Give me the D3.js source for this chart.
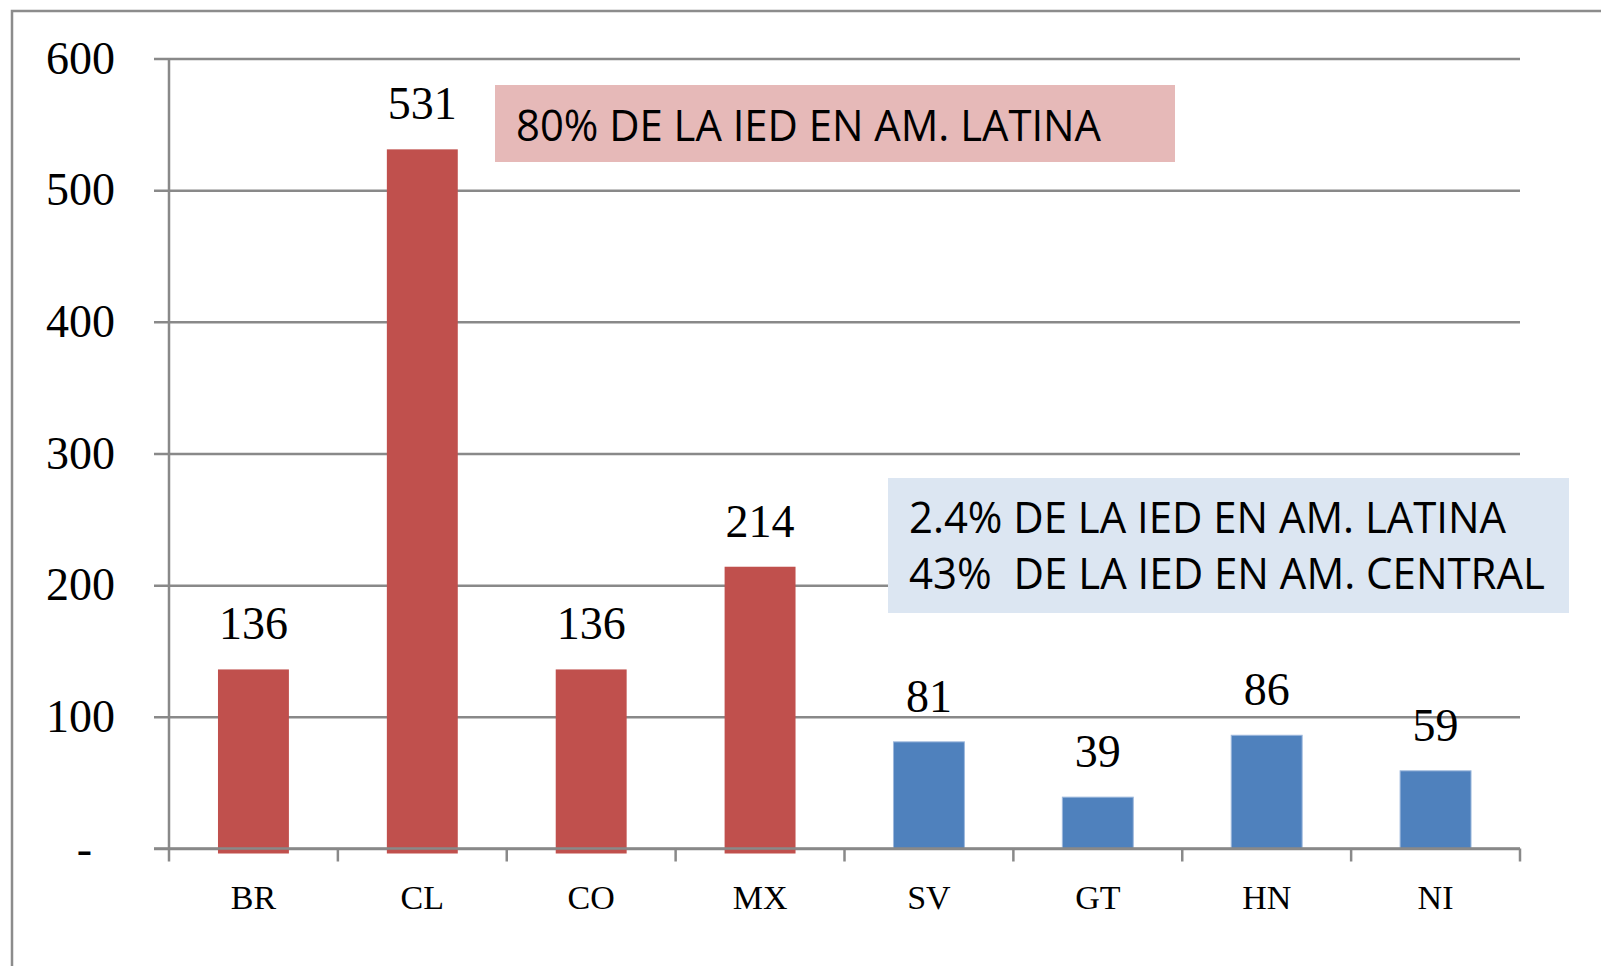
<!DOCTYPE html>
<html lang=es>
<head>
<meta charset="utf-8">
<title>IED</title>
<style>
  body { margin: 0; background: #fff; }
  .serif { font-family: "Liberation Serif", "DejaVu Serif", serif; fill: #000; }
  .note { font-family: "Open Sans", "Noto Sans", sans-serif; fill: #000; white-space: pre; }
</style>
</head>
<body>
<div id="chart"></div>
<script src="https://d3js.org/d3.v7.min.js"></script>
<script>
// data
var categories = ["BR", "CL", "CO", "MX", "SV", "GT", "HN", "NI"];
var values = [136, 531, 136, 214, 81, 39, 86, 59];
var region = ["sur", "sur", "sur", "sur", "centro", "centro", "centro", "centro"];
var yTicks = [0, 100, 200, 300, 400, 500, 600];
var noteSur = ["80% DE LA IED EN AM. LATINA"];
var noteCentro = ["2.4% DE LA IED EN AM. LATINA", "43%  DE LA IED EN AM. CENTRAL"];

(function() {
  var width = 1601,
      height = 966;
  var left = 169, right = 1520, gridLeft = 154;

  var svg = d3.select("#chart").append("svg")
      .attr("width", width)
      .attr("height", height);

  // outer frame, runs past the picture on the right and bottom
  svg.append("rect")
      .attr("x", 12).attr("y", 11)
      .attr("width", 1700).attr("height", 1100)
      .attr("fill", "none")
      .attr("stroke", "#8c8c8c")
      .attr("stroke-width", 2.5);

  var x = d3.scaleBand()
      .domain(categories)
      .range([left, right])
      .padding(0);

  var y = d3.scaleLinear()
      .domain([0, 600])
      .range([848.5, 58.5]);

  var color = d3.scaleOrdinal()
      .domain(["sur", "centro"])
      .range(["#C0504D", "#4F81BD"]);

  // gridlines + y labels
  var gy = svg.append("g")
      .attr("transform", "translate(" + gridLeft + ",0)")
      .call(d3.axisLeft(y)
        .tickValues(yTicks)
        .tickSize(-(right - gridLeft))
        .tickPadding(39)
        .tickFormat(function(d) { return d === 0 ? "-" : d; }));
  gy.select(".domain").remove();
  gy.selectAll("line")
      .attr("stroke", "#898989")
      .attr("stroke-width", 2.5);
  gy.selectAll("text")
      .attr("class", "serif")
      .attr("font-size", 46)
      .attr("fill", "#000");
  gy.selectAll(".tick").filter(function(d) { return d === 0; })
      .select("text").attr("dx", -23);

  // annotation boxes
  var sur = svg.append("g");
  sur.append("rect")
      .attr("x", 495).attr("y", 85)
      .attr("width", 680).attr("height", 77)
      .attr("fill", "#E6B9B8");
  sur.selectAll("text")
    .data(noteSur)
    .enter().append("text")
      .attr("class", "note")
      .attr("x", 516)
      .attr("y", 141)
      .attr("font-size", 44)
      .attr("textLength", 585)
      .attr("lengthAdjust", "spacingAndGlyphs")
      .text(function(d) { return d; });

  var centro = svg.append("g");
  centro.append("rect")
      .attr("x", 888).attr("y", 478)
      .attr("width", 681).attr("height", 135)
      .attr("fill", "#DCE6F2");
  var noteWidths = [597, 636];
  centro.selectAll("text")
    .data(noteCentro)
    .enter().append("text")
      .attr("class", "note")
      .attr("xml:space", "preserve")
      .attr("x", 909)
      .attr("y", function(d, i) { return 533 + i * 56; })
      .attr("font-size", 43)
      .attr("textLength", function(d, i) { return noteWidths[i]; })
      .attr("lengthAdjust", "spacingAndGlyphs")
      .text(function(d) { return d; });

  // bars
  var bw = x.bandwidth();
  svg.append("g")
    .selectAll("rect")
    .data(categories)
    .enter().append("rect")
      .attr("x", function(d) { return x(d) + bw * 0.29; })
      .attr("width", bw * 0.42)
      .attr("y", function(d, i) { return y(values[i]); })
      .attr("height", function(d, i) {
        // the red bars poke a little under the axis in the original
        return y(0) - y(values[i]) + (region[i] === "sur" ? 5 : 0);
      })
      .attr("fill", function(d, i) { return color(region[i]); })
      .attr("stroke", function(d, i) { return region[i] === "centro" ? "#9db8dc" : "none"; })
      .attr("stroke-width", 1);

  // value labels
  svg.append("g")
    .selectAll("text")
    .data(categories)
    .enter().append("text")
      .attr("class", "serif")
      .attr("x", function(d) { return x(d) + bw / 2; })
      .attr("y", function(d, i) { return y(values[i]) - 30; })
      .attr("text-anchor", "middle")
      .attr("font-size", 46)
      .text(function(d, i) { return values[i]; });

  // axes on top
  var axis = svg.append("g")
      .attr("stroke", "#898989")
      .attr("stroke-width", 2.5);
  axis.append("line")
      .attr("x1", left).attr("x2", left)
      .attr("y1", y(600)).attr("y2", y(0) + 13);
  axis.append("line")
      .attr("x1", gridLeft).attr("x2", right)
      .attr("y1", y(0)).attr("y2", y(0));
  axis.selectAll(".cat-tick")
    .data(categories.slice(1).concat(["end"]))
    .enter().append("line")
      .attr("x1", function(d) { return d === "end" ? right : x(d); })
      .attr("x2", function(d) { return d === "end" ? right : x(d); })
      .attr("y1", y(0))
      .attr("y2", y(0) + 13);

  // category labels
  svg.append("g")
    .selectAll("text")
    .data(categories)
    .enter().append("text")
      .attr("class", "serif")
      .attr("x", function(d) { return x(d) + bw / 2; })
      .attr("y", 909)
      .attr("text-anchor", "middle")
      .attr("font-size", 34)
      .text(function(d) { return d; });
})();
</script>
</body>
</html>
